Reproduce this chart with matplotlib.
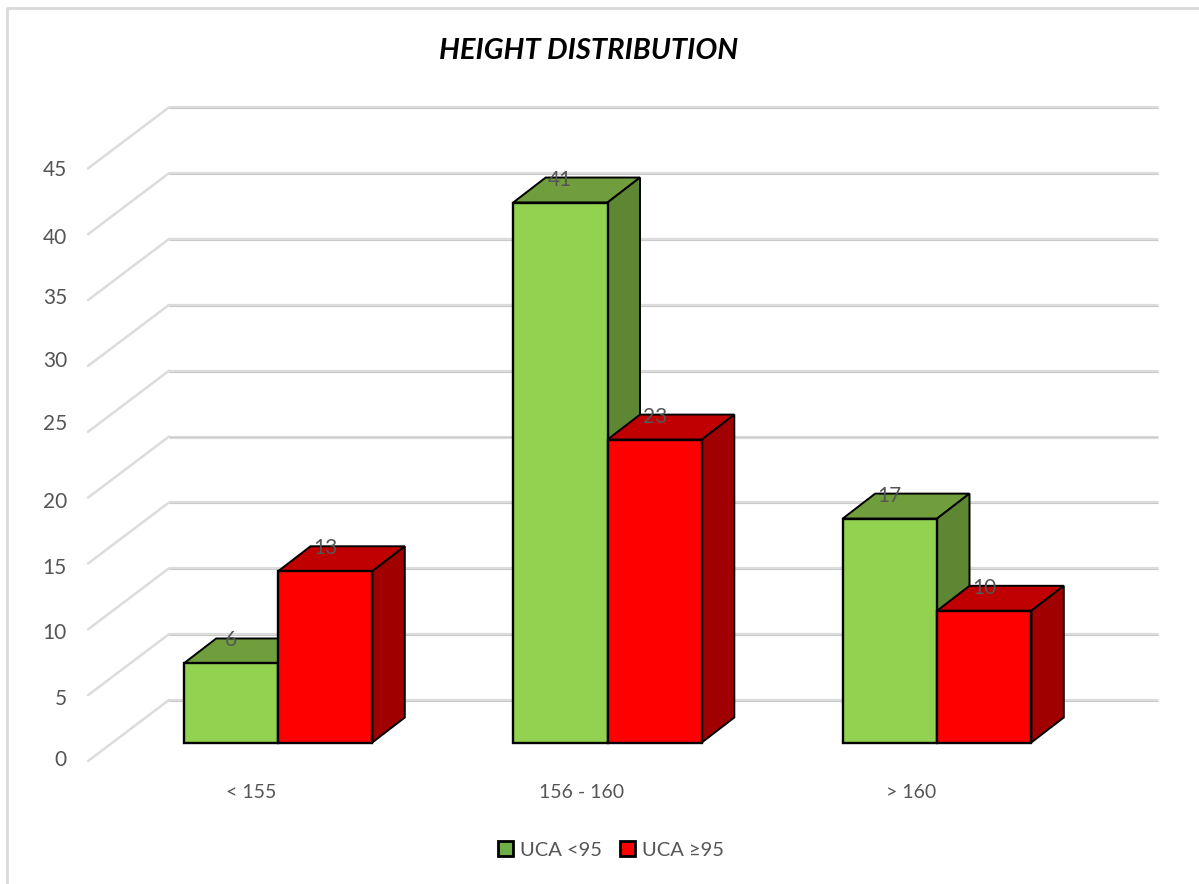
import matplotlib
matplotlib.use("Agg")
import matplotlib.pyplot as plt
from matplotlib.lines import Line2D
from matplotlib.patches import Patch

plt.rcParams['font.family'] = ['Lato', 'DejaVu Sans']

categories = ["< 155", "156 - 160", "> 160"]
uca_low = [6, 41, 17]
uca_high = [13, 23, 10]
y_ticks = [0, 5, 10, 15, 20, 25, 30, 35, 40, 45]
series_names = ["UCA <95", "UCA \u226595"]

# axis labels don't sit evenly, px to move each one up from its gridline end
tick_nudge = [1, -4, -4, -4, -4, 7.5, 4.5, 2, -4, -2]

# pixels per unit on each axis, the canvas is laid out in px
W, H = 1199, 884
PX_X = 329.5
PX_Y = 13.17
ORIGIN_X = 278
ORIGIN_Y = 742.5

BAR_W = 94.3 / PX_X
DEPTH_X = 32.5 / PX_X
DEPTH_Y = 25 / PX_Y

GRID_COLOR = "#dcdcdc"
GRID_SHADE = "#c6c6c6"
TEXT_COLOR = "#555555"
EDGE = "black"

fig = plt.figure(figsize=(W / 100, H / 100), dpi=100)
ax = fig.add_axes([0, 0, 1, 1])
ax.set_xlim(-ORIGIN_X / PX_X, (W - ORIGIN_X) / PX_X)
ax.set_ylim((ORIGIN_Y - H) / PX_Y, ORIGIN_Y / PX_Y)
ax.axis("off")

# outer chart frame, only the top and left edges are inside the canvas
fig.add_artist(Line2D([6.5 / W, 6.5 / W, 1], [0, 1 - 7.5 / H, 1 - 7.5 / H], color="#d9d9d9", lw=2))

# walls of the 3d box: slanted part on the side wall then flat part on the back wall
wall_left = -0.5766
wall_back = -0.3308
wall_right = 2.671
floor_front = -1.41
floor_back = 3.23
for v, nudge in zip(y_ticks, tick_nudge):
    ax.plot([wall_left, wall_back], [v + floor_front, v + floor_back],
            color=GRID_COLOR, lw=1.8, solid_capstyle="round", zorder=1)
    ax.plot([wall_back, wall_right], [v + floor_back, v + floor_back],
            color=GRID_COLOR, lw=2.3, solid_capstyle="butt", zorder=1)
    ax.plot([wall_back, wall_right], [v + floor_back - 0.07, v + floor_back - 0.07],
            color=GRID_SHADE, lw=0.6, solid_capstyle="butt", zorder=1)
    ax.text(-0.6405, v + floor_front + nudge / PX_Y, str(v), ha="right", va="center",
            fontsize=15, color=TEXT_COLOR)


def draw_bar(x, value, front, top, side):
    left = x - BAR_W / 2
    right = x + BAR_W / 2
    ax.fill([left, left + DEPTH_X, right + DEPTH_X, right],
            [value, value + DEPTH_Y, value + DEPTH_Y, value],
            facecolor=top, edgecolor=EDGE, lw=1.4, joinstyle="miter", zorder=3)
    ax.fill([right, right + DEPTH_X, right + DEPTH_X, right],
            [0, DEPTH_Y, value + DEPTH_Y, value],
            facecolor=side, edgecolor=EDGE, lw=1.4, joinstyle="miter", zorder=3)
    ax.bar(x, value, width=BAR_W, color=front, edgecolor=EDGE, lw=1.7, zorder=3)


for i in range(len(categories)):
    draw_bar(i - BAR_W / 2, uca_low[i], "#92d250", "#709e3d", "#5e8733")
    draw_bar(i + BAR_W / 2, uca_high[i], "#ff0000", "#c00000", "#a00000")
    ax.text(i - 0.08, (ORIGIN_Y - 793) / PX_Y, categories[i], ha="center", va="center",
            fontsize=14, color=TEXT_COLOR)

# value labels sit on the back edge of each bar top
for i in range(len(categories)):
    for x, v in ((i - BAR_W / 2, uca_low[i]), (i + BAR_W / 2, uca_high[i])):
        ax.text(x, v + DEPTH_Y - 0.15, str(v), ha="center", va="center", fontsize=15,
                color=TEXT_COLOR, zorder=5)

ax.text(0.944, (ORIGIN_Y - 51) / PX_Y, "HEIGHT DISTRIBUTION", ha="center", va="center",
        fontsize=21, fontweight="bold", fontstyle="italic", color="black")

handles = [Patch(facecolor="#70ad47", edgecolor="black", lw=2, label=series_names[0]),
           Patch(facecolor="#ff0000", edgecolor="black", lw=2, label=series_names[1])]
ax.legend(handles=handles, ncol=2, frameon=False, loc="center",
          bbox_to_anchor=(611 / W, 1 - 850 / H), fontsize=14.5, labelcolor=TEXT_COLOR,
          handlelength=0.75, handleheight=0.75, handletextpad=0.35, columnspacing=0.9)

fig.savefig("out.png", dpi=100)
